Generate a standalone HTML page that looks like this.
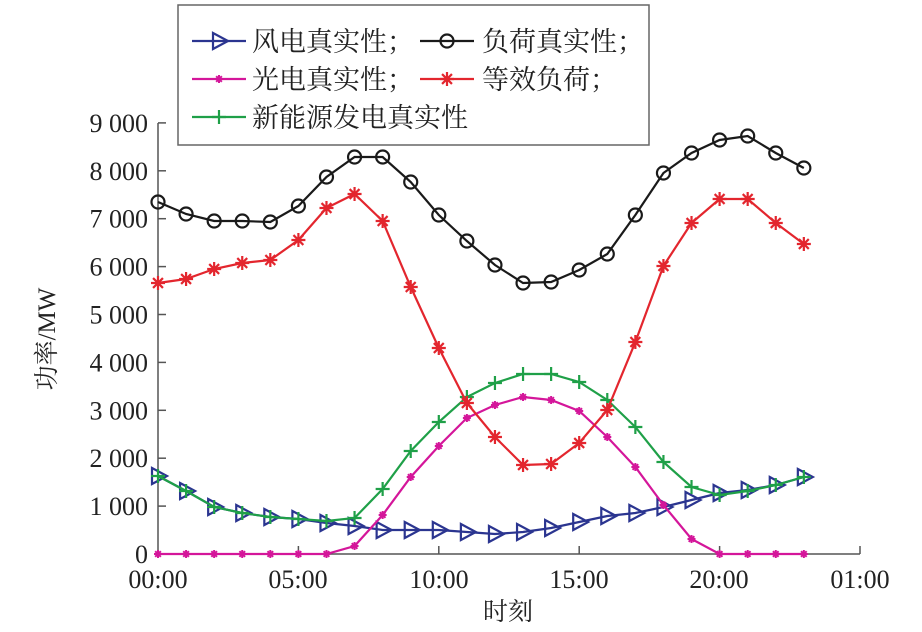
<!DOCTYPE html>
<html><head><meta charset="utf-8"><style>
html,body{margin:0;padding:0;background:#fff;}
svg{display:block}
</style></head><body>
<svg id="s" width="922" height="632" xmlns="http://www.w3.org/2000/svg" font-family="Liberation Serif, Noto Serif CJK SC, serif">
<rect x="178" y="5" width="471" height="140" fill="#fff" stroke="#666" stroke-width="1.5"/>
<g stroke="#555" stroke-width="1.5" fill="none">
<line x1="158" y1="123" x2="158" y2="554"/>
<line x1="158" y1="554" x2="860" y2="554"/>
</g>
<g id="ticks"></g>
<g id="series"></g>
<g font-size="26" fill="#222" text-anchor="end" id="ylab"></g>
<g font-size="26" fill="#222" text-anchor="middle">
<text x="158" y="588">00:00</text><text x="298" y="588">05:00</text><text x="439" y="588">10:00</text><text x="579" y="588">15:00</text><text x="719" y="588">20:00</text><text x="860" y="588">01:00</text>
<text x="508" y="620" font-family="Noto Serif CJK SC, serif" font-size="25">时刻</text>
<text transform="translate(55,339) rotate(-90)" font-size="25">功率/MW</text>
</g>
<g font-size="27" fill="#222" font-family="Noto Serif CJK SC, serif">
<text x="252" y="51">风电真实性；</text><text x="482" y="51">负荷真实性；</text>
<text x="252" y="89">光电真实性；</text><text x="482" y="89">等效负荷；</text>
<text x="252" y="127">新能源发电真实性</text>
</g>
<g id="leg"></g>
</svg>
<script>
var NS="http://www.w3.org/2000/svg";
function el(p,t,a){var e=document.createElementNS(NS,t);for(var k in a)e.setAttribute(k,a[k]);p.appendChild(e);return e;}
var s=document.getElementById('s'),tk=document.getElementById('ticks'),yl=document.getElementById('ylab'),sr=document.getElementById('series'),lg=document.getElementById('leg');
var labs=["0","1 000","2 000","3 000","4 000","5 000","6 000","7 000","8 000","9 000"];
for(var i=0;i<10;i++){var y=554-i*47.9;el(tk,'line',{x1:158,y1:y,x2:166,y2:y,stroke:'#555','stroke-width':1.5});var t=el(yl,'text',{x:148,y:y+9});t.textContent=labs[i];}
for(var i=1;i<=5;i++){var x=158+i*140.4;el(tk,'line',{x1:x,y1:554,x2:x,y2:546,stroke:'#555','stroke-width':1.5});}
function X(h){return 158+h*28.08;}
var data=[
['#2b3590','tri',[476,491,507,513,517,519,523,526,530,530,530,532,534,532,528,522,516,513,507,500,493,490,485,477]],
['#d4169a','star',[554,554,554,554,554,554,554,546,515,477,446,418,405,397,400,411,437,467,505,539,554,554,554,554]],
['#1fa048','plus',[476,491,507,513,517,519,521,518,489,451,422,397,383,374,374,382,400,427,462,487,495,491,485,477]],
['#e3262e','ast',[283,279,269,263,260,240,208,194,221,287,348,403,437,465,464,443,410,342,266,223,199,199,223,244]],
['#1a1a1a','circ',[202,214,221,221,222,206,177,157,157,182,215,241,265,283,282,270,254,215,173,153,140,136,153,168]]
];
function marker(g,type,x,y,c){
 if(type=='tri')el(g,'path',{d:'M'+(x-6)+' '+(y-8)+'L'+(x+9)+' '+y+'L'+(x-6)+' '+(y+8)+'Z',fill:'none',stroke:c,'stroke-width':2.2});
 else if(type=='circ')el(g,'circle',{cx:x,cy:y,r:6.5,fill:'none',stroke:c,'stroke-width':2.2});
 else if(type=='plus'){el(g,'path',{d:'M'+(x-7)+' '+y+'H'+(x+7)+'M'+x+' '+(y-7)+'V'+(y+7),stroke:c,'stroke-width':2.2});}
 else if(type=='ast'){var d='';for(var k=0;k<4;k++){var a=k*Math.PI/4,dx=7*Math.cos(a),dy=7*Math.sin(a);d+='M'+(x-dx)+' '+(y-dy)+'L'+(x+dx)+' '+(y+dy);}el(g,'path',{d:d,stroke:c,'stroke-width':2.2});}
 else if(type=='star'){var d='';for(var k=0;k<4;k++){var a=k*Math.PI/4,dx=4*Math.cos(a),dy=4*Math.sin(a);d+='M'+(x-dx)+' '+(y-dy)+'L'+(x+dx)+' '+(y+dy);}el(g,'path',{d:d,stroke:c,'stroke-width':2});}
}
data.forEach(function(sv){
 var pts=sv[2].map(function(v,i){return X(i)+','+v;}).join(' ');
 el(sr,'polyline',{points:pts,fill:'none',stroke:sv[0],'stroke-width':2.2});
 sv[2].forEach(function(v,i){marker(sr,sv[1],X(i),v,sv[0]);});
});
var L=[[192,41,'#2b3590','tri'],[420,41,'#1a1a1a','circ'],[192,79,'#d4169a','star'],[420,79,'#e3262e','ast'],[192,117,'#1fa048','plus']];
L.forEach(function(l){el(lg,'line',{x1:l[0],y1:l[1],x2:l[0]+54,y2:l[1],stroke:l[2],'stroke-width':2.2});marker(lg,l[3],l[0]+27,l[1],l[2]);});
</script>
</body></html>
